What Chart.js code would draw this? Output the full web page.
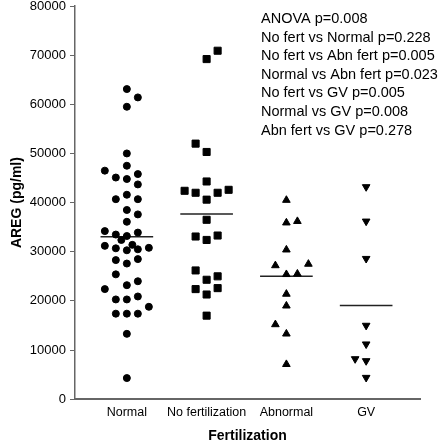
<!DOCTYPE html>
<html>
<head>
<meta charset="utf-8">
<script src="https://cdn.jsdelivr.net/npm/chart.js@4/dist/chart.umd.min.js"></script>
<style>
html,body{margin:0;padding:0;background:#fff;}
#wrap{width:445px;height:445px;}
</style>
</head>
<body>
<div id="wrap"><canvas id="c" width="445" height="445"></canvas></div>
<script>
// ---- data ----
const categories = ['Normal', 'No fertilization', 'Abnormal', 'GV'];

const normalValues = [63100, 61400, 59500, 50000, 47500, 46500, 45100, 44800, 45800, 43700,
  40700, 41600, 40700, 38500, 37600, 36100, 34200, 33500, 33200, 33900,
  32400, 31400, 31200, 30700, 30300, 30500, 30800, 28300, 27600, 28500,
  25400, 22400, 23200, 24000, 20300, 20300, 20900, 18800, 17400, 17400,
  17400, 13300, 4300];
const normalJitter = [0, 1, 0, 0, 0, -2, -1, 0, 1, 1,
  -1, 0, 1, 0, 1, 0, -2, -1, 0, 1,
  -0.5, 0.5, -2, -1, 0, 1, 2, -1, 0, 1,
  -1, -2, 0, 1, -1, 0, 1, 2, -1, 0,
  1, 0, 0];

const noFertValues = [69200, 70900, 52000, 50300, 44300, 42400, 42000, 40600, 42000, 42600,
  36500, 33100, 32400, 33300, 26200, 24300, 25000, 22400, 21300, 22600, 17000];
const noFertJitter = [0, 1, -1, 0, 0, -2, -1, 0, 1, 2,
  0, -1, 0, 1, -1, 0, 1, -1, 0, 1, 0];

const abnormalValues = [40500, 35900, 36200, 30400, 27200, 27500, 25400, 25500, 21400, 19000,
  15200, 13300, 7100];
const abnormalJitter = [0, 0, 1, 0, -1, 2, 0, 1, 0, 0, -1, 0, 0];

const gvValues = [43200, 36200, 28600, 15000, 11200, 8200, 7800, 4400];
const gvJitter = [0, 0, 0, 0, 0, -1, 0, 0];

const medians = [33060, 37680, 25020, 19040];

const yTickStep = 10000;

const statsLines = [
  'ANOVA p=0.008',
  'No fert vs Normal p=0.228',
  'No fert vs Abn fert p=0.005',
  'Normal vs Abn fert p=0.023',
  'No fert vs GV p=0.005',
  'Normal vs GV p=0.008',
  'Abn fert vs GV p=0.278'
];

// ---- build ----
const JSTEP = 0.138;   // jitter column width in category units
const MHALF = 0.33;    // half width of median bar
function pts(vals, jit, idx) {
  return vals.map((v, i) => ({ x: idx + jit[i] * JSTEP, y: v }));
}
const FONT = "'Liberation Sans', Arial, Helvetica, sans-serif";

const groupStyles = [
  { pointStyle: 'circle', radius: 3.5, rotation: 0 },
  { pointStyle: 'rect', radius: 5, rotation: 0 },
  { pointStyle: 'triangle', radius: 4.4, rotation: 0 },
  { pointStyle: 'triangle', radius: 4.4, rotation: 180 }
];
const groups = [
  [normalValues, normalJitter],
  [noFertValues, noFertJitter],
  [abnormalValues, abnormalJitter],
  [gvValues, gvJitter]
];

const datasets = [];
groups.forEach((g, i) => {
  const s = groupStyles[i];
  datasets.push({
    type: 'scatter',
    label: categories[i],
    data: pts(g[0], g[1], i),
    pointStyle: s.pointStyle,
    pointRadius: s.radius,
    pointRotation: s.rotation,
    backgroundColor: '#000',
    borderColor: '#000',
    borderWidth: 1,
    showLine: false
  });
});
medians.forEach((m, i) => {
  datasets.push({
    type: 'line',
    label: 'median ' + categories[i],
    data: [{ x: i - MHALF, y: m }, { x: i + MHALF, y: m }],
    borderColor: '#222',
    borderWidth: 1.5,
    pointRadius: 0,
    fill: false
  });
});

const statsPlugin = {
  id: 'stats',
  afterDraw(chart) {
    const ctx = chart.ctx;
    ctx.save();
    ctx.fillStyle = '#000';
    ctx.font = '14.5px ' + FONT;
    ctx.textBaseline = 'alphabetic';
    ctx.textAlign = 'left';
    statsLines.forEach((t, i) => {
      ctx.fillText(t, 261, 23 + i * 18.6);
    });
    ctx.restore();
  }
};

new Chart(document.getElementById('c'), {
  data: { datasets },
  options: {
    responsive: false,
    animation: false,
    layout: { padding: { left: 9, right: 25, top: 0, bottom: 0 } },
    plugins: { legend: { display: false }, tooltip: { enabled: false } },
    scales: {
      x: {
        type: 'linear',
        min: -0.65,
        max: 3.675,
        afterBuildTicks(axis) {
          axis.ticks = categories.map((c, i) => ({ value: i }));
        },
        afterFit(s) { s.paddingLeft = 0; s.paddingRight = 0; },
        ticks: {
          autoSkip: false,
          maxRotation: 0,
          color: '#000',
          padding: 6,
          font: { family: FONT, size: 12.5 },
          callback: (v) => categories[v] !== undefined ? categories[v] : ''
        },
        grid: { display: false, drawTicks: false },
        border: { display: true, color: '#666', width: 2 },
        title: {
          display: true,
          text: 'Fertilization',
          color: '#000',
          font: { family: FONT, size: 14, weight: 'bold' },
          padding: { top: 2, bottom: 0 }
        }
      },
      y: {
        type: 'linear',
        min: 0,
        max: 80000,
        afterFit(s) { s.width = 66; s.paddingTop = 6; s.paddingBottom = 0; },
        ticks: {
          stepSize: yTickStep,
          color: '#000',
          padding: 4,
          font: { family: FONT, size: 13 },
          callback: (v) => String(v)
        },
        grid: { display: true, drawOnChartArea: false, drawTicks: true, tickLength: 5, color: '#666', tickColor: '#666' },
        border: { display: true, color: '#666', width: 1.5 },
        title: {
          display: true,
          text: 'AREG (pg/ml)',
          color: '#000',
          font: { family: FONT, size: 14, weight: 'bold' },
          padding: { top: 0, bottom: 4 }
        }
      }
    }
  },
  plugins: [statsPlugin]
});
</script>
</body>
</html>
